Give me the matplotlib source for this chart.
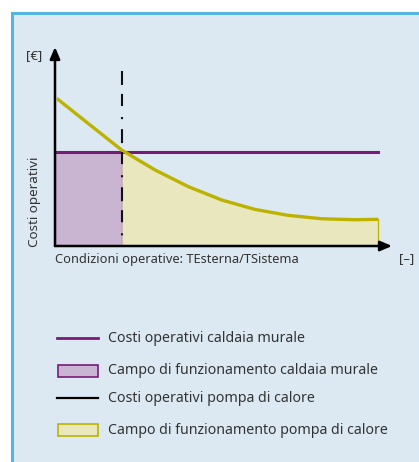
import matplotlib
matplotlib.use('Agg')
from matplotlib import pyplot as plt
from matplotlib.patches import Rectangle
from matplotlib.lines import Line2D

# heat pump running cost curve (x: operating conditions, y: cost), axes 0..100
pump_x = [0.5, 9.9, 19.8, 29.7, 39.6, 49.5, 59.3, 69.2, 79.1, 89.0, 95.9]
pump_y = [74.2, 61.5, 48.2, 38.2, 29.8, 23.1, 18.4, 15.4, 13.7, 13.2, 13.4]
boiler_cost = 47.1
switch_x = 19.8
dash_top = 87.9

legend_labels = ['Costi operativi caldaia murale',
                 'Campo di funzionamento caldaia murale',
                 'Costi operativi pompa di calore',
                 'Campo di funzionamento pompa di calore']

plt.rcParams['font.family'] = ['Noto Sans', 'DejaVu Sans']

purple = '#7a1a78'
purple_fill = '#c9b4d2'
yellow = '#bdb200'
yellow_fill = '#e9e7bd'
text_col = '#333333'

W, H = 419, 462
fig = plt.figure(figsize=(W / 100, H / 100), dpi=100)
fig.patch.set_facecolor('white')

def fx(px):
    return px / W

def fy(py):
    return 1 - py / H

# light blue panel with blue border
fig.patches.append(Rectangle((fx(11.5), fy(470)), fx(420) - fx(11.5), fy(12.5) - fy(470),
                             transform=fig.transFigure, facecolor='#dce9f2',
                             edgecolor='#55b5dd', linewidth=2.2, zorder=-5))

ax = fig.add_axes([fx(55), fy(246), fx(392) - fx(55), fy(47) - fy(246)])
ax.set_zorder(2)
ax.set_xlim(0, 100)
ax.set_ylim(0, 100)
ax.axis('off')

# boiler operating area
ax.add_patch(Rectangle((0, 0), switch_x, boiler_cost, facecolor=purple_fill,
                       edgecolor=purple, linewidth=0.8, zorder=1))
# heat pump operating area
ax.fill_between(pump_x[2:], 0, pump_y[2:], color=yellow_fill, linewidth=0, zorder=1)
ax.plot([pump_x[-1], pump_x[-1]], [0, pump_y[-1]], color=yellow, linewidth=0.9, zorder=2)

ax.plot([pump_x[0], pump_x[-1]], [boiler_cost, boiler_cost], color=purple, linewidth=2.2, zorder=3)
ax.plot(pump_x, pump_y, color=yellow, linewidth=2.4, solid_capstyle='butt',
        solid_joinstyle='round', zorder=4)
ax.plot([switch_x, switch_x], [dash_top, 0], color='#111111', linewidth=1.5,
        linestyle=(0, (6.7, 4.3, 5.8, 5.3, 1, 4.8)), zorder=5)

# axes arrows
arrow = dict(arrowstyle='-|>,head_length=0.7,head_width=0.3', color='black',
             linewidth=1.8, shrinkA=0, shrinkB=0)
ax.annotate('', xy=(100, 0), xytext=(0, 0), arrowprops=arrow, annotation_clip=False)
ax.annotate('', xy=(0, 100), xytext=(0, 0), arrowprops=arrow, annotation_clip=False)

fig.text(fx(34), fy(56), '[€]', fontsize=9.5, color=text_col, ha='center', va='center')
fig.text(fx(34), fy(202), 'Costi operativi', fontsize=9.7, color=text_col,
         rotation=90, ha='center', va='center')
fig.text(fx(55), fy(259), 'Condizioni operative: TEsterna/TSistema', fontsize=9.25,
         color=text_col, ha='left', va='center')
fig.text(fx(399), fy(259), '[–]', fontsize=9.5, color=text_col, ha='left', va='center')

# legend
rows = [338, 371, 398, 430]
styles = ['line', 'patch', 'line', 'patch']
colors = [(purple, None), (purple, purple_fill), ('black', None), (yellow, yellow_fill)]
for py, style, (ec, fc), label in zip(rows, styles, colors, legend_labels):
    if style == 'line':
        fig.lines.append(Line2D([fx(57), fx(98)], [fy(py), fy(py)], transform=fig.transFigure,
                                color=ec, linewidth=2.0 if ec == purple else 1.6))
    else:
        fig.patches.append(Rectangle((fx(57.5), fy(py + 6)), fx(97.5) - fx(57.5), fy(py - 6) - fy(py + 6),
                                     transform=fig.transFigure, facecolor=fc,
                                     edgecolor=ec, linewidth=1.2))
    fig.text(fx(108), fy(py), label, fontsize=10.2, color=text_col, ha='left', va='center')

fig.savefig('out.png', dpi=100, facecolor='white')
